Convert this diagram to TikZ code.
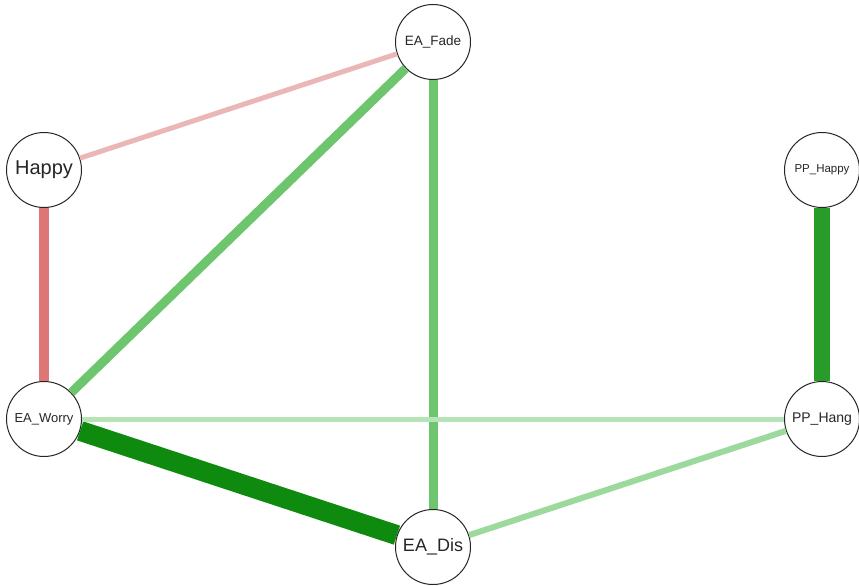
\documentclass[tikz,border=0pt]{standalone}
\usepackage{fontspec}
\setmainfont{Liberation Sans}
\begin{document}
\begin{tikzpicture}[x=1pt,y=-1pt,
  vnode/.style={circle,draw=black!85,line width=1pt,fill=white,minimum size=75pt,inner sep=0pt,text=black!85},
  edge/.style={line cap=butt}]
\useasboundingbox (0,0) rectangle (859,586);
\definecolor{pinkl}{HTML}{EBB6B6}
\definecolor{redm}{HTML}{DE7676}
\definecolor{greenm}{HTML}{6DC66D}
\definecolor{greend}{HTML}{0E8A0E}
\definecolor{greenp}{HTML}{289C28}
\definecolor{greenl}{HTML}{B7E4B7}
\definecolor{greenh}{HTML}{9CD99C}
\node[vnode,font=\fontsize{13.5}{16}\selectfont] (fade) at (433,42) {EA\_Fade};
\node[vnode,font=\fontsize{20}{23}\selectfont] (happy) at (44,170) {Happy};
\node[vnode,font=\fontsize{11.5}{14}\selectfont] (pphappy) at (822,170) {PP\_Happy};
\node[vnode,font=\fontsize{13}{15}\selectfont] (worry) at (44,419) {EA\_Worry};
\node[vnode,font=\fontsize{14}{16}\selectfont] (hang) at (822,419) {PP\_Hang};
\node[vnode,font=\fontsize{18}{21}\selectfont] (dis) at (433,547) {EA\_Dis};
\begin{scope}
\draw[edge,pinkl,line width=5pt] (happy) -- (fade);
\draw[edge,redm,line width=10pt] (happy) -- (worry);
\draw[edge,greenm,line width=9pt] (fade) -- (worry);
\draw[edge,greenm,line width=9pt] (fade) -- (dis);
\draw[edge,greend,line width=20pt] (worry) -- (dis);
\draw[edge,greenl,line width=5pt] (worry) -- (hang);
\draw[edge,greenh,line width=6pt] (hang) -- (dis);
\draw[edge,greenp,line width=16pt] (pphappy) -- (hang);
\end{scope}
\end{tikzpicture}
\end{document}
